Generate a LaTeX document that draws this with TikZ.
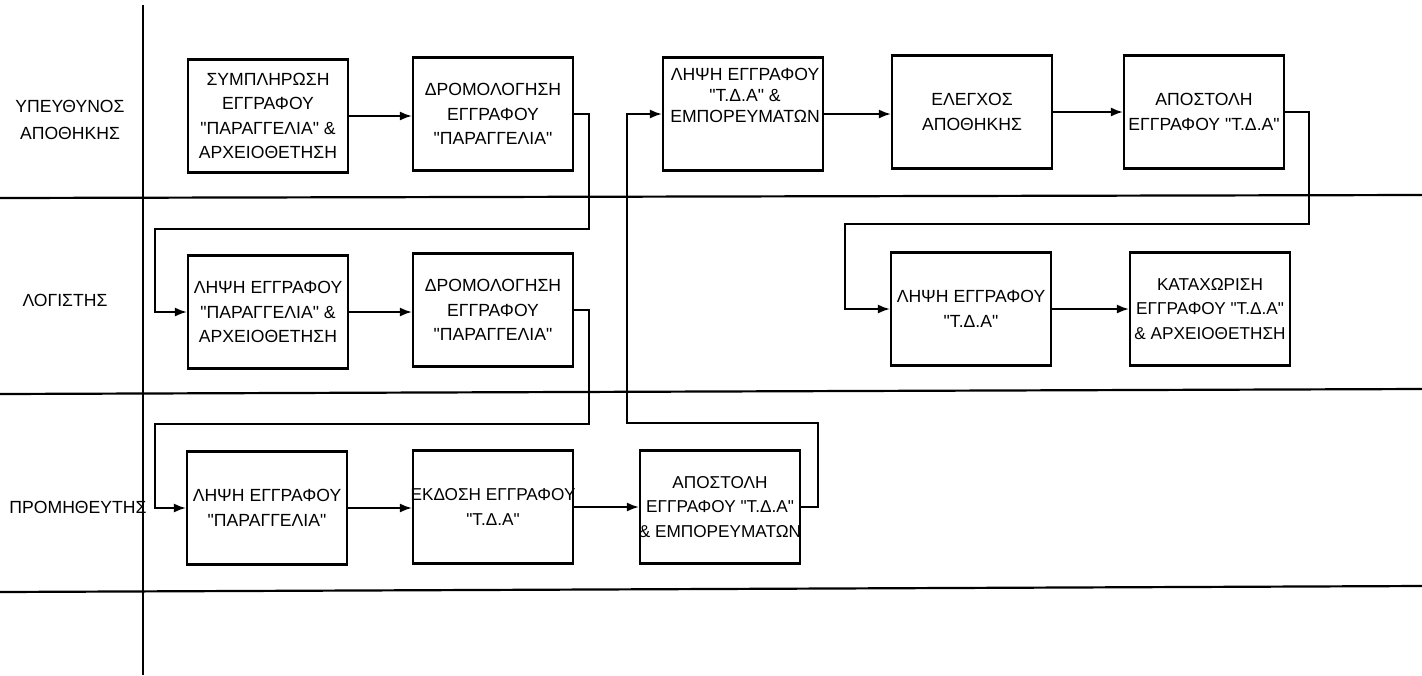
\documentclass[tikz,border=0pt]{standalone}
\usepackage{fontspec}
\setmainfont{Liberation Sans}[Ligatures=TeXOff]
\usetikzlibrary{arrows.meta}
\begin{document}
\begin{tikzpicture}[x=0.5pt,y=-0.5pt,
  box/.style={draw,line width=1.1pt,minimum width=80pt,minimum height=56.5pt,inner sep=1pt,align=center,font=\fontsize{8.8}{12.2}\selectfont},
  narrow/.style={inner xsep=-2pt,font=\fontsize{8.6}{12.2}\selectfont},
  txt/.style={align=center,inner sep=0pt,font=\fontsize{8.8}{10.5}\selectfont},
  conn/.style={line width=0.9pt,-{Latex[length=6pt,width=4.5pt]}},
  lane/.style={line width=1.1pt},
  lbl/.style={align=center,inner sep=0pt,font=\fontsize{8.8}{13.5}\selectfont}]
\fill[white] (0,0) rectangle (1422,675);
\useasboundingbox (0,0) rectangle (1422,675);

% swimlane grid
\draw[line width=0.7pt] (143,5) -- (143,675);
\draw[lane] (0,198) -- (1422,195);
\draw[lane] (0,394) -- (1422,389);
\draw[lane] (0,592) -- (1422,586);

% lane labels
\node[lbl] (L1) at (70,120) {ΥΠΕΥΘΥΝΟΣ\\ΑΠΟΘΗΚΗΣ};
\node[lbl] (L2) at (65,300) {ΛΟΓΙΣΤΗΣ};
\node[lbl] (L3) at (78,507) {ΠΡΟΜΗΘΕΥΤΗΣ};

% row 1
\node[box] (B1) at (268,116) {ΣΥΜΠΛΗΡΩΣΗ\\ΕΓΓΡΑΦΟΥ\\"ΠΑΡΑΓΓΕΛΙΑ" \&\\ΑΡΧΕΙΟΘΕΤΗΣΗ};
\node[box] (B2) at (493,114) {ΔΡΟΜΟΛΟΓΗΣΗ\\ΕΓΓΡΑΦΟΥ\\"ΠΑΡΑΓΓΕΛΙΑ"};
\node[box] (B3) at (743,114) {};
\node[txt] (B3t) at (745,95) {ΛΗΨΗ ΕΓΓΡΑΦΟΥ\\"Τ.Δ.Α" \&\\ΕΜΠΟΡΕΥΜΑΤΩΝ};
\node[box] (B4) at (972,112) {ΕΛΕΓΧΟΣ\\ΑΠΟΘΗΚΗΣ};
\node[box] (B5) at (1204,112) {ΑΠΟΣΤΟΛΗ\\ΕΓΓΡΑΦΟΥ "Τ.Δ.Α"};

% row 2
\node[box] (B6) at (268,312) {ΛΗΨΗ ΕΓΓΡΑΦΟΥ\\"ΠΑΡΑΓΓΕΛΙΑ" \&\\ΑΡΧΕΙΟΘΕΤΗΣΗ};
\node[box] (B7) at (493,310) {ΔΡΟΜΟΛΟΓΗΣΗ\\ΕΓΓΡΑΦΟΥ\\"ΠΑΡΑΓΓΕΛΙΑ"};
\node[box] (B10) at (971,309) {ΛΗΨΗ ΕΓΓΡΑΦΟΥ\\"Τ.Δ.Α"};
\node[box,narrow] (B11) at (1210,309) {ΚΑΤΑΧΩΡΙΣΗ\\ΕΓΓΡΑΦΟΥ "Τ.Δ.Α"\\\& ΑΡΧΕΙΟΘΕΤΗΣΗ};

% row 3
\node[box] (B12) at (267,508) {ΛΗΨΗ ΕΓΓΡΑΦΟΥ\\"ΠΑΡΑΓΓΕΛΙΑ"};
\node[box,narrow] (B13) at (493,507) {ΕΚΔΟΣΗ ΕΓΓΡΑΦΟΥ\\"Τ.Δ.Α"};
\node[box,narrow] (B14) at (720,507) {ΑΠΟΣΤΟΛΗ\\ΕΓΓΡΑΦΟΥ "Τ.Δ.Α"\\\& ΕΜΠΟΡΕΥΜΑΤΩΝ};

% bend points
\coordinate (c1a) at (589,229);
\coordinate (c1b) at (155,229);
\coordinate (c2a) at (589,424);
\coordinate (c2b) at (155,424);
\coordinate (c3a) at (818,423);
\coordinate (c3b) at (627,423);
\coordinate (c4a) at (1309,224);
\coordinate (c4b) at (845,224);

% straight arrows
\draw[conn] (B1.east) -- (B1.east -| B2.west);
\draw[conn] (B3.east) -- (B3.east -| B4.west);
\draw[conn] (B4.east) -- (B4.east -| B5.west);
\draw[conn] (B6.east) -- (B6.east -| B7.west);
\draw[conn] (B10.east) -- (B10.east -| B11.west);
\draw[conn] (B12.east) -- (B12.east -| B13.west);
\draw[conn] (B13.east) -- (B13.east -| B14.west);

% routed arrows
\draw[conn] (B2.east) -| (c1a) -- (c1b) |- (B6.west);
\draw[conn] (B7.east) -| (c2a) -- (c2b) |- (B12.west);
\draw[conn] (B14.east) -| (c3a) -- (c3b) |- (B3.west);
\draw[conn] (B5.east) -| (c4a) -- (c4b) |- (B10.west);
\end{tikzpicture}
\end{document}
